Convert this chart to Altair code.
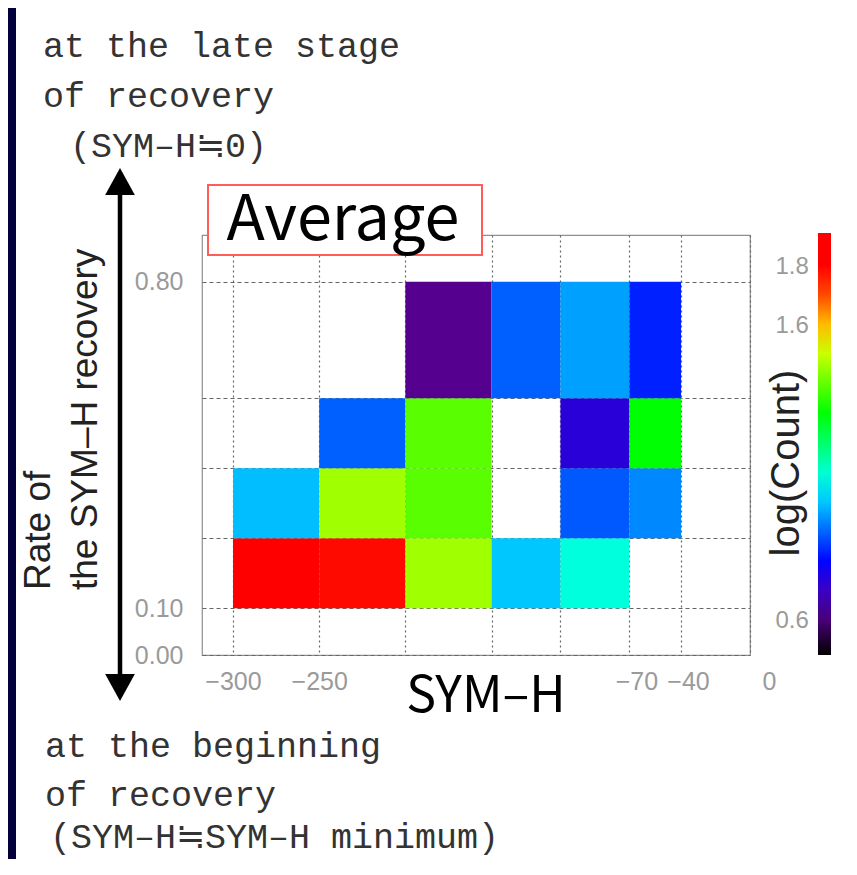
import altair as alt
import pandas as pd

# ---- data ----
x_lo = [-300, -250, -200, -150, -110, -70]
x_hi = [-250, -200, -150, -110, -70, -40]
y_lo = [0.10, 0.25, 0.40, 0.55]
y_hi = [0.25, 0.40, 0.55, 0.80]
# log(Count) per cell; rows = y bins (bottom -> top), cols = x bins; None = empty
log_count = [
    [1.85, 1.765, 1.46, 1.00, 1.09, None],
    [0.99, 1.46, 1.39, None, 0.886, 0.935],
    [None, 0.894, 1.39, None, 0.73, 1.30],
    [None, None, 0.622, 0.894, 0.959, 0.829],
]
x_ticks = [-300, -250, -200, -150, -110, -70, -40, 0]
y_ticks = [0.0, 0.10, 0.25, 0.40, 0.55, 0.80]
cbar_ticks = [0.6, 1.6, 1.8]
cmap_stops = [0.482, 0.64, 0.796, 1.056, 1.303, 1.553, 1.641, 1.776, 1.908]
cmap_colors = ["#000000", "#6000a0", "#0000ff", "#00ffff", "#00ff00",
               "#ffff00", "#ff8000", "#ff0000", "#ff0000"]

rows = []
for i, row in enumerate(log_count):
    for j, v in enumerate(row):
        if v is not None:
            rows.append({"x0": x_lo[j], "x1": x_hi[j], "y0": y_lo[i], "y1": y_hi[i], "v": v})
cells = pd.DataFrame(rows)
cbar = pd.DataFrame({"cb": cbar_ticks})

W, H = 548, 420
MONO = "Liberation Mono"
GOTHIC = "Noto Sans CJK JP"

x_scale = alt.Scale(domain=[-318, 0], nice=False, zero=False)
y_scale = alt.Scale(domain=[0, 0.9], nice=False, zero=False)

heat = alt.Chart(cells).mark_rect().encode(
    x=alt.X("x0:Q", scale=x_scale,
            axis=alt.Axis(values=x_ticks, title=None, grid=True, gridDash=[2, 3],
                          gridColor="#666666", gridWidth=1.2, ticks=False, domain=False,
                          labelExpr="(datum.value == -200 || datum.value == -150 || datum.value == -110) ? '' : (datum.value == 0 ? '0' : '\u2212' + abs(datum.value))",
                          labelFont="Liberation Sans", labelFontSize=25, labelColor="#9a9a9a",
                          labelPadding=14, labelFlush=False,
                          labelOffset={"condition": [{"test": "datum.value == 0", "value": 19},
                                                     {"test": "datum.value == -70 || datum.value == -40", "value": 7}],
                                       "value": 0})),
    x2="x1:Q",
    y=alt.Y("y0:Q", scale=y_scale,
            axis=alt.Axis(values=y_ticks, title=None, grid=True, gridDash=[4, 3],
                          gridColor="#666666", gridWidth=1.2, ticks=False, domain=False,
                          labelExpr="(datum.value == 0 || datum.value == 0.1 || datum.value == 0.8) ? format(datum.value, '.2f') : ''",
                          labelFont="Liberation Sans", labelFontSize=25, labelColor="#9a9a9a",
                          labelPadding=19)),
    y2="y1:Q",
    color=alt.Color("v:Q",
                    scale=alt.Scale(domain=cmap_stops, range=cmap_colors, interpolate="rgb"),
                    legend=alt.Legend(orient="none", legendX=616, legendY=-2, direction="vertical",
                                      gradientLength=422, gradientThickness=13, title=None,
                                      values=cbar_ticks, labelOpacity=0, padding=0,
                                      gradientStrokeWidth=0)),
)

# colour-bar tick labels: an independent axis sharing the colour scale's domain
cbar_axis = alt.Chart(cbar).mark_point(opacity=0).encode(
    y=alt.Y("cb:Q", scale=alt.Scale(domain=[cmap_stops[0], cmap_stops[-1]], nice=False, zero=False),
            axis=alt.Axis(orient="right", values=cbar_ticks, format=".1f", title=None,
                          ticks=False, domain=False, grid=False, offset=25, labelPadding=0,
                          labelFont="Liberation Sans", labelFontSize=24, labelColor="#9a9a9a")),
)


def one(s):
    return pd.DataFrame({"t": [s]})


def text(s, x, y, size, font, angle=0, align="left", baseline="alphabetic", color="#222222"):
    kw = dict(fontSize=size, font=font, align=align, baseline=baseline, color=color)
    if angle:
        kw["angle"] = angle
    return alt.Chart(one(s)).mark_text(**kw).encode(
        x=alt.value(x), y=alt.value(y), text="t:N")


navy = alt.Chart(one("n")).mark_rect(color="#04003c").encode(
    x=alt.value(-200), x2=alt.value(-186), y=alt.value(-240), y2=alt.value(640))

box = alt.Chart(one("b")).mark_rect(fill="white", stroke="#ff5c5c", strokeWidth=2).encode(
    x=alt.value(6), x2=alt.value(280), y=alt.value(-50), y2=alt.value(20))

shaft = alt.Chart(one("s")).mark_rule(color="black", strokeWidth=4.5).encode(
    x=alt.value(-82), y=alt.value(-45), y2=alt.value(445))
head_up = alt.Chart(one("u")).mark_point(shape="M0,-1L1.1,1L-1.1,1Z", filled=True, size=729,
                                         color="black", opacity=1).encode(
    x=alt.value(-82), y=alt.value(-53.5))
head_dn = alt.Chart(one("d")).mark_point(shape="M0,1L1.1,-1L-1.1,-1Z", filled=True, size=729,
                                         color="black", opacity=1).encode(
    x=alt.value(-82), y=alt.value(452.5))

layers = [
    navy,
    heat,
    cbar_axis,
    box,
    text("Average", 141, 5, 63, GOTHIC, align="center", color="#000000"),
    text("SYM\u2013H", 284, 477, 50, GOTHIC, align="center", color="#000000"),
    text("log(Count)", 585, 228, 40, "Liberation Sans", angle=270, align="center", baseline="middle"),
    text("Rate of", -152, 355, 37, "Liberation Sans", angle=270),
    text("the SYM\u2013H recovery", -105, 355, 37, "Liberation Sans", angle=270),
    shaft, head_up, head_dn,
    text("at the late stage", -159, -178, 35, MONO, color="#333333"),
    text("of recovery", -159, -128, 35, MONO, color="#333333"),
    text("(SYM\u2013H\u22520)", -132, -78, 35, MONO, color="#333333"),
    text("at the beginning", -157, 522, 35, MONO, color="#333333"),
    text("of recovery", -157, 571, 35, MONO, color="#333333"),
    text("(SYM\u2013H\u2252SYM\u2013H minimum)", -152, 613, 35, MONO, color="#333333"),
]

chart = alt.layer(*layers).resolve_scale(y="independent").properties(
    width=W, height=H, autosize="none",
    padding={"left": 194, "top": 227, "right": 98, "bottom": 204},
).configure(background="white").configure_view(stroke="#909090", strokeWidth=1.2)

chart.save("out.html", embed_options={"renderer": "svg", "actions": False})
